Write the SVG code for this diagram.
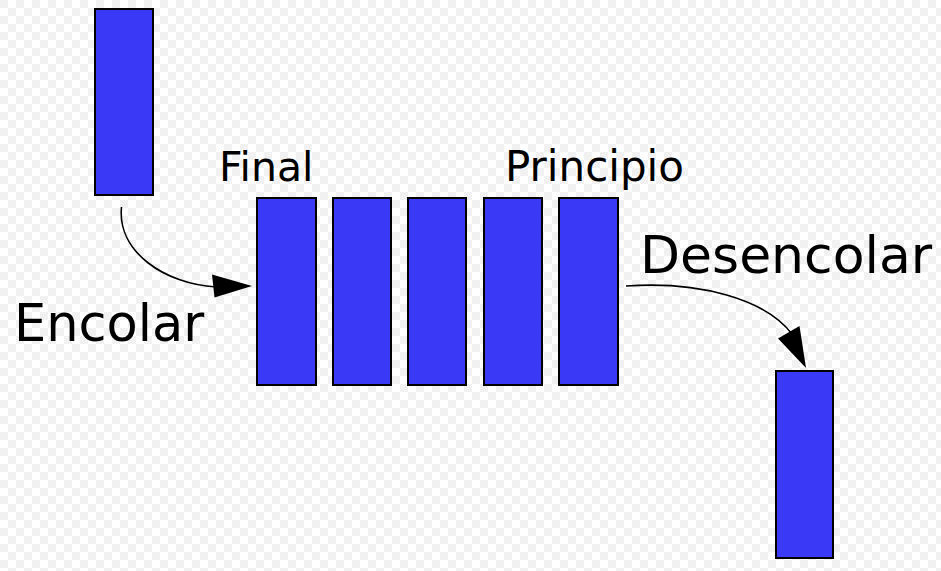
<svg xmlns="http://www.w3.org/2000/svg" width="941" height="571" viewBox="0 0 941 571">
<defs>
<pattern id="chk" width="16" height="16" patternUnits="userSpaceOnUse">
<rect width="16" height="16" fill="#ffffff"/>
<rect width="8" height="8" fill="#f1f1f1"/>
<rect x="8" y="8" width="8" height="8" fill="#f1f1f1"/>
</pattern>
<style>
.box{fill:#3a3af6;stroke:#000;stroke-width:2}
.lbl{font-family:"DejaVu Sans",sans-serif;fill:#000}
.conn{fill:none;stroke:#000;stroke-width:1.6}
.head{fill:#000;stroke:none}
</style>
</defs>
<rect width="941" height="571" fill="url(#chk)"/>
<g id="in-item"><rect class="box" x="95" y="9" width="58" height="186"/></g>
<g id="q1"><rect class="box" x="257" y="198" width="59" height="187"/></g>
<g id="q2"><rect class="box" x="333" y="198" width="58" height="187"/></g>
<g id="q3"><rect class="box" x="408" y="198" width="58" height="187"/></g>
<g id="q4"><rect class="box" x="484" y="198" width="58" height="187"/></g>
<g id="q5"><rect class="box" x="559" y="198" width="59" height="187"/></g>
<g id="out-item"><rect class="box" x="776" y="371" width="57" height="187"/></g>
<g id="labels">
<text class="lbl" x="219" y="181" font-size="41">Final</text>
<text class="lbl" x="505" y="181" font-size="42">Principio</text>
<text class="lbl" x="640" y="273" font-size="52">Desencolar</text>
<text class="lbl" x="14" y="341" font-size="51">Encolar</text>
</g>
<g id="connectors">
<path class="conn" d="M121.5,207 C117,252 165,284 216,287"/>
<polygon class="head" points="252,286 212,274.5 214.5,297.5"/>
<path class="conn" d="M626,286 C700,281 765,299 792,334"/>
<polygon class="head" points="806,368 778,338.5 799.5,326"/>
</g>
</svg>
